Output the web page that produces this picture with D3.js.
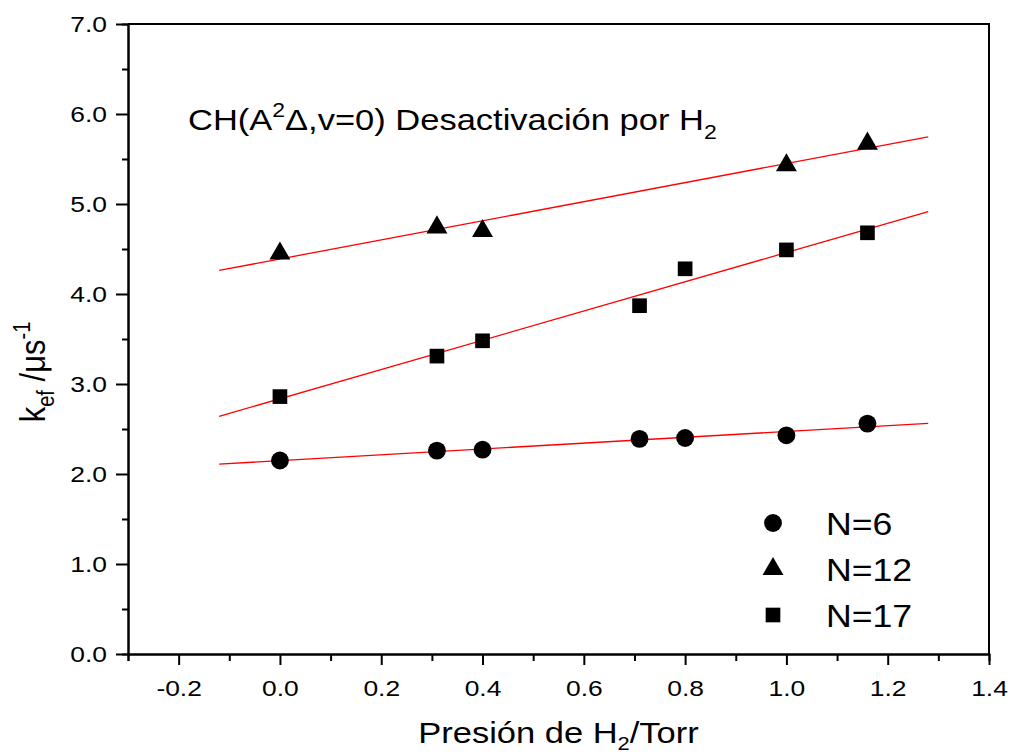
<!DOCTYPE html>
<html>
<head>
<meta charset="utf-8">
<script src="https://cdn.jsdelivr.net/npm/d3@7"></script>
<style>
  body { margin: 0; background: #fff; }
  svg text { font-family: "Liberation Sans", Arial, sans-serif; fill: #000; }
</style>
</head>
<body>
<svg id="view" width="1010" height="755"></svg>
<script>
// pressure of H2 (Torr) and effective rate constants (1/us)
var presN6  = [0.00, 0.31, 0.40, 0.71, 0.80, 1.00, 1.16];
var kN6     = [2.15, 2.26, 2.27, 2.39, 2.40, 2.43, 2.56];
var presN12 = [0.00, 0.31, 0.40, 1.00, 1.16];
var kN12    = [4.45, 4.74, 4.70, 5.43, 5.67];
var presN17 = [0.00, 0.31, 0.40, 0.71, 0.80, 1.00, 1.16];
var kN17    = [2.86, 3.31, 3.48, 3.87, 4.28, 4.49, 4.68];

var seriesNames = ['N=6', 'N=12', 'N=17'];
var fitRange = [-0.12, 1.28];

var xMajor = [-0.2, 0.0, 0.2, 0.4, 0.6, 0.8, 1.0, 1.2, 1.4];
var xMinor = [-0.3, -0.1, 0.1, 0.3, 0.5, 0.7, 0.9, 1.1, 1.3];
var yMajor = [0, 1, 2, 3, 4, 5, 6, 7];
var yMinor = [0.5, 1.5, 2.5, 3.5, 4.5, 5.5, 6.5];

var margin = {left: 128, top: 24, right: 21, bottom: 101};
var W = 1010 - margin.left - margin.right;
var H = 755 - margin.top - margin.bottom;
var SX = 1.15;     // glyphs come out a bit wider than tall
var SX_TICK = 1.2;

var svg = d3.select('svg#view');
var g = svg.append('g').attr('transform', 'translate(' + margin.left + ',' + margin.top + ')');

var x = d3.scaleLinear().domain([-0.3, 1.4]).range([0, W]);
var y = d3.scaleLinear().domain([0, 7]).range([H, 0]);

// plain hyphen for negatives
var fmt = function(v) { return d3.format('.1f')(v).replace('\u2212', '-'); };

// least squares line through each series
function fit(xs, ys) {
	var n = xs.length;
	var mx = d3.mean(xs), my = d3.mean(ys);
	var sxy = 0, sxx = 0;
	for (var i = 0; i < n; i++) {
		sxy += (xs[i] - mx) * (ys[i] - my);
		sxx += (xs[i] - mx) * (xs[i] - mx);
	}
	var b = sxy / sxx;
	return {a: my - b * mx, b: b};
}

var series = [
	{name: seriesNames[0], xs: presN6,  ys: kN6,  sym: d3.symbolCircle,   size: 250},
	{name: seriesNames[1], xs: presN12, ys: kN12, sym: d3.symbolTriangle, size: 190},
	{name: seriesNames[2], xs: presN17, ys: kN17, sym: d3.symbolSquare,   size: 215}
];

// frame (top and right sides)
g.append('path')
	.attr('d', 'M0,0H' + W + 'V' + H)
	.attr('fill', 'none').attr('stroke', '#000').attr('stroke-width', 2);

// axes: minor ticks first, then the labelled major ones
function styleAxis(sel) {
	sel.attr('font-family', null).attr('font-size', 22);
	sel.select('.domain').attr('stroke-width', 2);
	sel.selectAll('.tick line').attr('stroke-width', 2);
}

g.append('g').attr('transform', 'translate(0,' + H + ')')
	.call(d3.axisBottom(x).tickValues(xMinor).tickSize(7).tickFormat(''))
	.call(styleAxis);
var xAx = g.append('g').attr('transform', 'translate(0,' + H + ')')
	.call(d3.axisBottom(x).tickValues(xMajor).tickSize(11).tickSizeOuter(0).tickFormat(fmt))
	.call(styleAxis);
xAx.selectAll('.tick text')
	.attr('y', 0).attr('dy', 0)
	.attr('transform', 'translate(0,42) scale(' + SX_TICK + ',1)');

g.append('g')
	.call(d3.axisLeft(y).tickValues(yMinor).tickSize(6).tickFormat(''))
	.call(styleAxis);
var yAx = g.append('g')
	.call(d3.axisLeft(y).tickValues(yMajor).tickSize(12).tickSizeOuter(0).tickFormat(fmt))
	.call(styleAxis);
yAx.selectAll('.tick text')
	.attr('x', 0).attr('dy', '0.36em')
	.attr('transform', 'translate(-21,0) scale(' + SX_TICK + ',1)');

// fitted lines
series.forEach(function(s) {
	var f = fit(s.xs, s.ys);
	g.append('line')
		.attr('x1', x(fitRange[0])).attr('y1', y(f.a + f.b * fitRange[0]))
		.attr('x2', x(fitRange[1])).attr('y2', y(f.a + f.b * fitRange[1]))
		.attr('stroke', '#ff0000').attr('stroke-width', 1.3);
});

// data points
series.forEach(function(s) {
	var shape = d3.symbol().type(s.sym).size(s.size);
	g.append('g').selectAll('path')
		.data(s.xs.map(function(v, i) { return [v, s.ys[i]]; }))
		.enter().append('path')
		.attr('d', shape)
		.attr('transform', function(d) { return 'translate(' + x(d[0]) + ',' + y(d[1]) + ')'; })
		.attr('fill', '#000');
});

// legend
var leg = svg.append('g').attr('transform', 'translate(773,523)');
series.forEach(function(s, i) {
	leg.append('path')
		.attr('d', d3.symbol().type(s.sym).size(s.size)())
		.attr('transform', 'translate(0,' + (i * 46) + ')')
		.attr('fill', '#000');
	leg.append('text')
		.attr('transform', 'translate(53,' + (i * 46 + 12) + ') scale(' + SX + ',1)')
		.style('font-size', '31px')
		.text(s.name);
});

// annotation
var note = svg.append('text')
	.attr('transform', 'translate(188,130) scale(' + SX + ',1)')
	.style('font-size', '30px');
note.append('tspan').text('CH(A');
note.append('tspan').attr('dy', -13).style('font-size', '20px').text('2');
note.append('tspan').attr('dy', 13).text('Δ,v=0) Desactivación por H');
note.append('tspan').attr('dy', 9).style('font-size', '20px').text('2');

// axis titles
var xt = svg.append('text')
	.attr('text-anchor', 'middle')
	.attr('transform', 'translate(' + (margin.left + W / 2) + ',743) scale(' + SX + ',1)')
	.style('font-size', '30px');
xt.append('tspan').text('Presión de H');
xt.append('tspan').attr('dy', 7).style('font-size', '19px').text('2');
xt.append('tspan').attr('dy', -7).text('/Torr');

var yt = svg.append('text')
	.attr('text-anchor', 'middle')
	.attr('transform', 'translate(45,372) rotate(-90) scale(1,' + SX + ')')
	.style('font-size', '31px');
yt.append('tspan').text('k');
yt.append('tspan').attr('dy', 8).style('font-size', '20px').text('ef');
yt.append('tspan').attr('dy', -8).text(' /μs');
yt.append('tspan').attr('dy', -13).style('font-size', '20px').text('-1');
</script>
</body>
</html>
